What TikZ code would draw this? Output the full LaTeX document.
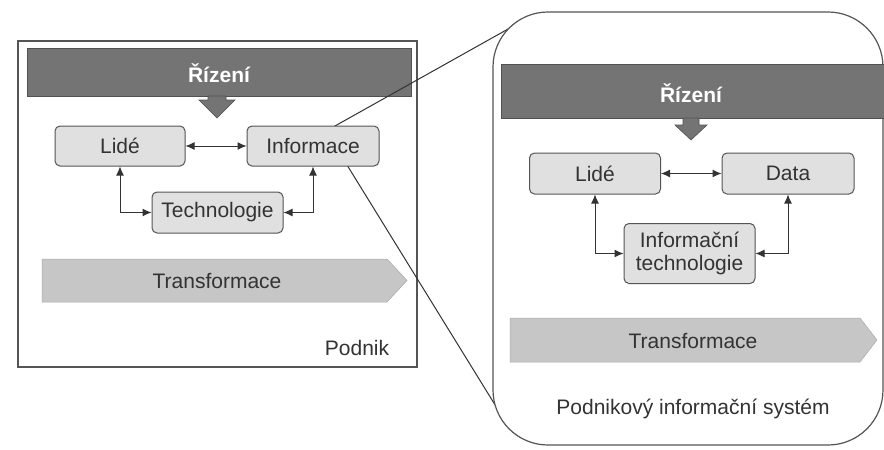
\documentclass[tikz,border=0pt]{standalone}
\usepackage{fontspec}
\setmainfont{Liberation Sans}
\usetikzlibrary{arrows.meta}
\definecolor{bannergray}{HTML}{747474}
\definecolor{boxgray}{HTML}{E0E0E0}
\definecolor{arrowgray}{HTML}{C6C6C6}
\definecolor{edgegray}{HTML}{555555}
\definecolor{txtgray}{HTML}{333333}
\tikzset{
  unit/.style={rounded corners=5pt, draw=edgegray, line width=1pt, fill=boxgray,
    text=txtgray, font=\fontsize{21}{24}\selectfont, inner sep=0pt, align=center},
  conn/.style={draw=txtgray, line width=1pt, {Latex[length=9pt,width=8pt]}-{Latex[length=9pt,width=8pt]}},
  bannertext/.style={text=white, font=\bfseries\fontsize{21}{24}\selectfont},
  plain/.style={text=txtgray, font=\fontsize{21}{24}\selectfont},
  banner/.style={fill=bannergray, draw=bannergray!70!black, line width=0.6pt},
  flow/.style={fill=arrowgray, draw=arrowgray!85!black, line width=0.5pt},
  frame/.style={draw=edgegray, line width=1.2pt},
  zoomline/.style={draw=txtgray, line width=1pt}
}
\begin{document}
\begin{tikzpicture}[x=1pt,y=-1pt]
\useasboundingbox[fill=white] (0,0) rectangle (884,450);

% ---------- left frame ----------
\draw[frame] (18,41) rectangle (417,367);
\draw[banner] (27,48) rectangle (411,96);
\node[bannertext] (riz1) at (219,73) {Řízení};
\draw[banner] (208,96) -- (208,100) -- (199,100) -- (217,118) -- (235,100) -- (226,100) -- (226,96) -- cycle;
\draw[flow] (42,259) -- (387,259) -- (407,280.5) -- (387,302) -- (42,302) -- cycle;
\node[plain] (tr1) at (217,281) {Transformace};
\node[plain] (podnik) at (357,348) {Podnik};

% ---------- zoom lines ----------
\coordinate (apex) at (326,131);
\coordinate (ztop) at (517,24);
\coordinate (zbot) at (497,408);
\draw[zoomline] (apex) -- (ztop);
\draw[zoomline] (apex) -- (zbot);

% ---------- right frame ----------
\draw[frame, fill=white, rounded corners=55pt] (493,12) rectangle (883,445);
\draw[banner] (501,64) rectangle (884,118);
\node[bannertext] (riz2) at (691,93) {Řízení};
\draw[banner] (683,118) -- (683,125) -- (675,125) -- (691,140) -- (707,125) -- (699,125) -- (699,118) -- cycle;
\draw[flow] (510,318) -- (860,318) -- (877,340) -- (860,362) -- (510,362) -- cycle;
\node[plain] (tr2) at (693,341) {Transformace};
\node[plain] (pis) at (693,409) {Podnikový informační systém};

% ---------- left nodes ----------
\node[unit, minimum width=130pt, minimum height=40pt] (lide) at (120,146) {Lidé};
\node[unit, minimum width=132pt, minimum height=40pt] (inf) at (313,146) {Informace};
\node[unit, minimum width=131pt, minimum height=41pt] (tech) at (217.5,212.5) {Technologie};
\draw[conn] (lide.east) -- (inf.west);
\draw[conn] (lide.south) |- (tech.west);
\draw[conn] (inf.south) |- (tech.east);

% ---------- right nodes ----------
\node[unit, minimum width=131pt, minimum height=41pt] (lide2) at (595,173.5) {Lidé};
\node[unit, minimum width=132pt, minimum height=41pt] (data) at (788,173.5) {Data};
\node[unit, minimum width=131pt, minimum height=60pt, font=\fontsize{21}{23}\selectfont] (it) at (689.5,253.5) {Informační\\technologie};
\draw[conn] (lide2.east) -- (data.west);
\draw[conn] (lide2.south) |- (it.west);
\draw[conn] (data.south) |- (it.east);
\end{tikzpicture}
\end{document}
